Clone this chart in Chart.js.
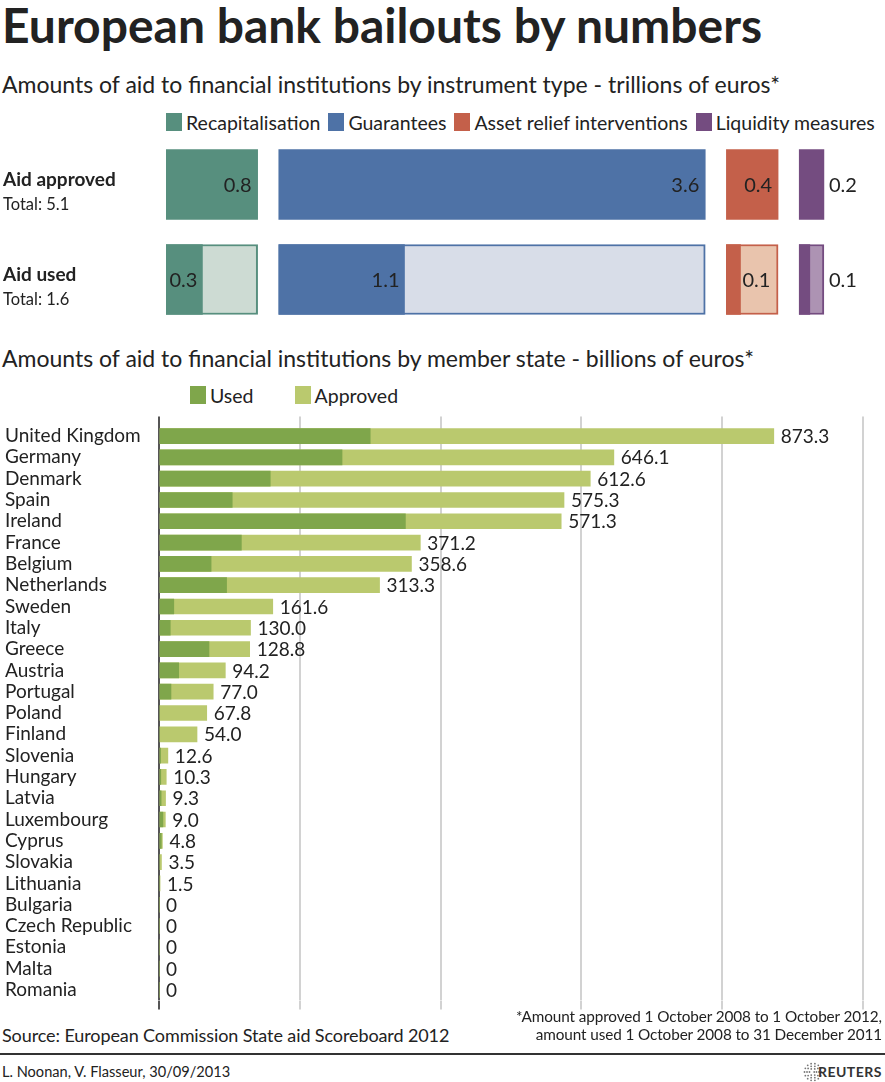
<!DOCTYPE html>
<html>
<head>
<meta charset="utf-8">
<title>European bank bailouts by numbers</title>
<script src="https://cdn.jsdelivr.net/npm/chart.js@4.4.1/dist/chart.umd.min.js"></script>
<style>
    html, body { margin: 0; padding: 0; background: #fff; overflow: hidden; }
    body { font-family: Lato, 'Open Sans', sans-serif; color: #222; }
    #page { position: relative; width: 885px; height: 1082px; }
    .abs { position: absolute; white-space: nowrap; }
    #title { left: 2px; top: -4px; font-size: 48px; line-height: 57px; font-weight: 700; }
    .subtitle { left: 2px; font-size: 23px; line-height: 27px; font-weight: 400; }
    .legend { display: flex; align-items: center; height: 18px; font-size: 19.5px; font-weight: 400; }
    .legend span.box { display: inline-block; width: 16px; height: 18px; margin-right: 4px; }
    .legend span.item { display: inline-flex; align-items: center; }
    #topWrap { left: 0; top: 137px; width: 885px; height: 190px; }
    #stateWrap { left: 0; top: 411px; width: 885px; height: 604px; }
    #footnote { right: 3px; top: 1007px; font-size: 15.3px; line-height: 18px; text-align: right; letter-spacing: -0.1px; }
    #source { left: 2px; top: 1024px; font-size: 18px; line-height: 22px; letter-spacing: -0.1px; }
    #rule { left: 0; top: 1053px; width: 885px; height: 2px; background: #333; }
    #credit { left: 2px; top: 1063px; font-size: 14.6px; line-height: 18px; }
    #reuters { right: 3px; top: 1063px; font-size: 14px; line-height: 18px; font-weight: 700; letter-spacing: 0.5px; color: #333; }
    #logo { left: 803px; top: 1062px; }
</style>
</head>
<body>
<div id="page">
    <div id="title" class="abs">European bank bailouts by numbers</div>
    <div class="abs subtitle" style="top: 71px;">Amounts of aid to financial institutions by instrument type - trillions of euros*</div>
    <div id="topLegend" class="abs legend" style="left: 166px; top: 113px;"></div>
    <div id="topWrap" class="abs"><canvas id="instrumentChart"></canvas></div>

    <div class="abs subtitle" style="top: 345px;">Amounts of aid to financial institutions by member state - billions of euros*</div>
    <div id="stateLegend" class="abs legend" style="left: 190px; top: 386px;"></div>
    <div id="stateWrap" class="abs"><canvas id="stateChart"></canvas></div>

    <div id="footnote" class="abs">*Amount approved 1 October 2008 to 1 October 2012,<br>amount used 1 October 2008 to 31 December 2011</div>
    <div id="source" class="abs">Source: European Commission State aid Scoreboard 2012</div>
    <div id="rule" class="abs"></div>
    <div id="credit" class="abs">L. Noonan, V. Flasseur, 30/09/2013</div>
    <svg id="logo" class="abs" width="20" height="20" viewBox="0 0 20 20"></svg>
    <div id="reuters" class="abs">REUTERS</div>
</div>
<script>
    // Instrument type, trillions of euros
    const instruments = ['Recapitalisation', 'Guarantees', 'Asset relief interventions', 'Liquidity measures'];
    const approvedTrn = [0.78, 3.63, 0.44, 0.21];
    const usedTrn = [0.31, 1.07, 0.12, 0.09];
    const rowLabels = ['Aid approved', 'Aid used'];
    const darkColours = ['#578f7e', '#4e72a6', '#c4604a', '#744c80'];
    const lightColours = ['#cddbd3', '#d8dde8', '#e9c4ad', '#ad93b3'];

    // Member state, billions of euros
    const countries = ['United Kingdom', 'Germany', 'Denmark', 'Spain', 'Ireland', 'France', 'Belgium',
        'Netherlands', 'Sweden', 'Italy', 'Greece', 'Austria', 'Portugal', 'Poland', 'Finland', 'Slovenia',
        'Hungary', 'Latvia', 'Luxembourg', 'Cyprus', 'Slovakia', 'Lithuania', 'Bulgaria', 'Czech Republic',
        'Estonia', 'Malta', 'Romania'];
    const approvedBn = [873.3, 646.1, 612.6, 575.3, 571.3, 371.2, 358.6, 313.3, 161.6, 130.0, 128.8, 94.2,
        77.0, 67.8, 54.0, 12.6, 10.3, 9.3, 9.0, 4.8, 3.5, 1.5, 0, 0, 0, 0, 0];
    const usedBn = [300, 260, 158, 104, 350, 117, 74, 96, 21, 16, 71, 28,
        17, 0, 0, 2.2, 2.5, 3.0, 5.5, 3.2, 0, 0, 0, 0, 0, 0, 0];
    const seriesLabels = ['Used', 'Approved'];
    const seriesColours = ['#7fa64b', '#bac96e'];

    const FONT = 'Lato, "Open Sans", sans-serif';

    function buildLegend(el, names, colours, gap) {
        names.forEach((name, i) => {
            const item = document.createElement('span');
            item.className = 'item';
            item.style.marginRight = gap + 'px';
            const box = document.createElement('span');
            box.className = 'box';
            box.style.background = colours[i];
            item.appendChild(box);
            item.appendChild(document.createTextNode(name));
            el.appendChild(item);
        });
    }
    buildLegend(document.getElementById('topLegend'), instruments, darkColours, 8);
    buildLegend(document.getElementById('stateLegend'), seriesLabels, seriesColours, 41);

    // Top chart: each instrument is a floating box, boxes laid side by side with a gap
    const gap = 0.18;
    const starts = [];
    let pos = 0;
    approvedTrn.forEach(v => { starts.push(pos); pos += v + gap; });
    const totals = [approvedTrn.reduce((a, b) => a + b, 0), usedTrn.reduce((a, b) => a + b, 0)];

    const topDatasets = [];
    instruments.forEach((name, i) => {
        topDatasets.push({
            label: name + ' used',
            data: [null, [starts[i], starts[i] + usedTrn[i]]],
            backgroundColor: darkColours[i],
            borderWidth: 0,
            grouped: false,
            barThickness: 70
        });
    });
    instruments.forEach((name, i) => {
        topDatasets.push({
            label: name,
            data: [[starts[i], starts[i] + approvedTrn[i]], [starts[i], starts[i] + approvedTrn[i]]],
            backgroundColor: [darkColours[i], lightColours[i]],
            borderColor: darkColours[i],
            borderWidth: [0, 2],
            borderSkipped: false,
            grouped: false,
            barThickness: 70
        });
    });

    const instrumentLabels = {
        id: 'instrumentLabels',
        afterDatasetsDraw(chart) {
            const c = chart.ctx;
            c.save();
            c.fillStyle = '#222';
            c.textBaseline = 'middle';
            c.font = '20px ' + FONT;
            instruments.forEach((name, i) => {
                const full = chart.getDatasetMeta(i + instruments.length).data;
                const used = chart.getDatasetMeta(i).data[1];

                // approved row
                let text = approvedTrn[i].toFixed(1);
                let w = c.measureText(text).width;
                const bar = full[0];
                if (bar.x - bar.base > w + 12) {
                    c.textAlign = 'right';
                    c.fillText(text, bar.x - 6, bar.y + 1);
                } else {
                    c.textAlign = 'left';
                    c.fillText(text, bar.x + 5, bar.y + 1);
                }

                // used row
                text = usedTrn[i].toFixed(1);
                w = c.measureText(text).width;
                const box = full[1];
                if (used.x - used.base > w + 8) {
                    c.textAlign = 'right';
                    c.fillText(text, used.x - 5, used.y + 1);
                } else if (box.x - used.x > w + 6) {
                    c.textAlign = 'left';
                    c.fillText(text, used.x + 2, used.y + 1);
                } else {
                    c.textAlign = 'left';
                    c.fillText(text, box.x + 5, used.y + 1);
                }
            });

            // row titles on the left
            c.textAlign = 'left';
            rowLabels.forEach((label, r) => {
                const y = chart.scales.y.getPixelForValue(r);
                c.font = 'bold 19px ' + FONT;
                c.fillText(label, 3, y - 5);
                c.font = '16.5px ' + FONT;
                c.fillText('Total: ' + totals[r].toFixed(1), 3, y + 20);
            });
            c.restore();
        }
    };

    new Chart(document.getElementById('instrumentChart'), {
        type: 'bar',
        data: {
            labels: rowLabels,
            datasets: topDatasets
        },
        options: {
            indexAxis: 'y',
            responsive: true,
            maintainAspectRatio: false,
            animation: false,
            layout: { padding: { left: 166, right: 0, top: 0, bottom: 0 } },
            plugins: {
                legend: { display: false },
                tooltip: { enabled: false }
            },
            scales: {
                x: { display: false, min: 0, max: 6.12 },
                y: { display: false }
            }
        },
        plugins: [instrumentLabels]
    });

    // Bottom chart: used drawn over approved
    const gridColour = ctx => (ctx.tick && ctx.tick.value === 0 ? '#555' : '#d2d2d2');

    const valueLabels = {
        id: 'valueLabels',
        afterDatasetsDraw(chart) {
            const c = chart.ctx;
            const meta = chart.getDatasetMeta(1);
            c.save();
            c.font = '19px ' + FONT;
            c.fillStyle = '#222';
            c.textBaseline = 'middle';
            c.textAlign = 'left';
            meta.data.forEach((bar, i) => {
                const v = approvedBn[i];
                c.fillText(v === 0 ? '0' : v.toFixed(1), bar.x + 7, bar.y + 1);
            });
            c.restore();
        }
    };

    new Chart(document.getElementById('stateChart'), {
        type: 'bar',
        data: {
            labels: countries,
            datasets: [
                {
                    label: seriesLabels[0],
                    data: usedBn,
                    backgroundColor: seriesColours[0],
                    grouped: false,
                    barThickness: 15
                },
                {
                    label: seriesLabels[1],
                    data: approvedBn,
                    backgroundColor: seriesColours[1],
                    grouped: false,
                    barThickness: 15
                }
            ]
        },
        options: {
            indexAxis: 'y',
            responsive: true,
            maintainAspectRatio: false,
            animation: false,
            layout: { padding: { left: 5, right: 22, top: 0, bottom: 0 } },
            plugins: {
                legend: { display: false },
                tooltip: { enabled: false }
            },
            scales: {
                x: {
                    position: 'top',
                    min: 0,
                    max: 1000,
                    ticks: { display: false, stepSize: 200 },
                    border: { display: false },
                    grid: { color: gridColour, lineWidth: 2, drawTicks: true, tickLength: 9 }
                },
                x2: {
                    type: 'linear',
                    axis: 'x',
                    position: 'bottom',
                    min: 0,
                    max: 1000,
                    ticks: { display: false, stepSize: 200 },
                    border: { display: false },
                    grid: { color: gridColour, lineWidth: 2, drawTicks: true, tickLength: 9, drawOnChartArea: false }
                },
                y: {
                    ticks: {
                        font: { size: 19, family: FONT },
                        color: '#222',
                        crossAlign: 'far',
                        autoSkip: false
                    },
                    grid: { display: false },
                    border: { display: false },
                    afterFit: scale => { scale.width = 154; }
                }
            }
        },
        plugins: [valueLabels]
    });

    // Reuters dotted globe
    const logo = document.getElementById('logo');
    [[1.2, 1], [3.5, 6], [6, 10], [8.5, 14]].forEach(([r, n]) => {
        for (let k = 0; k < n; k++) {
            const a = (k / n) * Math.PI * 2;
            const dot = document.createElementNS('http://www.w3.org/2000/svg', 'circle');
            dot.setAttribute('cx', 10 + r * Math.cos(a));
            dot.setAttribute('cy', 10 + r * Math.sin(a));
            dot.setAttribute('r', 0.9);
            dot.setAttribute('fill', '#777');
            logo.appendChild(dot);
        }
    });
</script>
</body>
</html>
